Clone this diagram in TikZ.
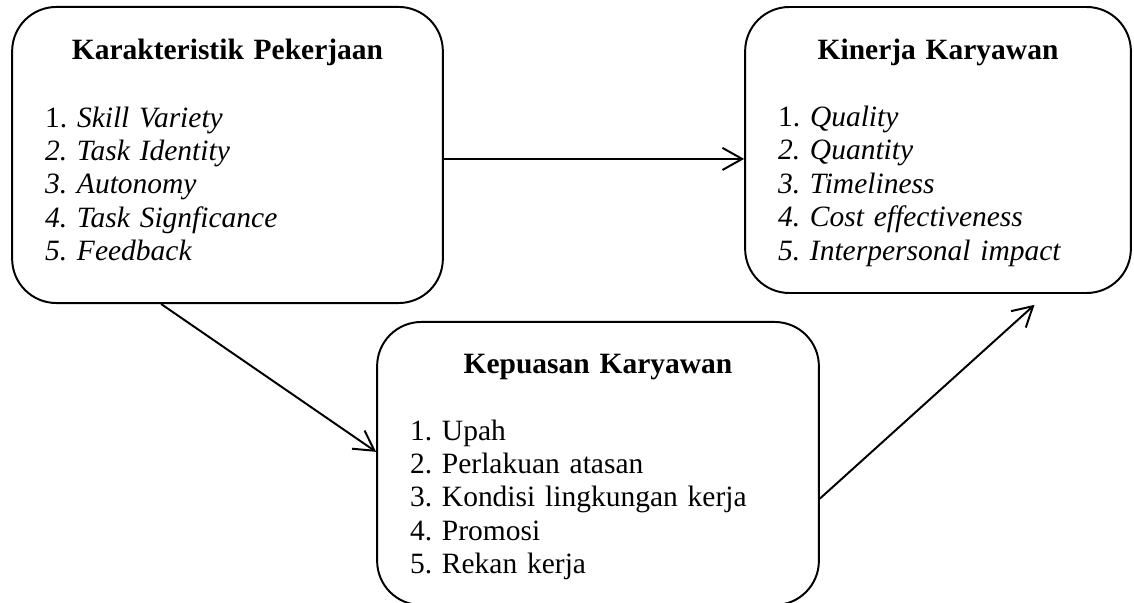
\documentclass[tikz,border=0pt]{standalone}
\usepackage{fontspec}
\setmainfont{Liberation Serif}
\frenchspacing
\usetikzlibrary{arrows.meta, positioning, calc}

\begin{document}
\begin{tikzpicture}[x=0.407pt, y=-0.407pt, >={Straight Barb[length=8pt,width=9pt]}, line width=0.8pt,
        box/.style={draw, rounded corners=18pt, align=left, inner xsep=13.4pt, inner ysep=0pt,
            font=\fontsize{12}{13.6}\selectfont}]
        \useasboundingbox (0,0) rectangle (1134,603);

        \node (kp) [box, text width=148.5pt, minimum height=120.5pt] at (227.5,155)
            {\makebox[\linewidth]{\bfseries Karakteristik Pekerjaan}\\[13.7pt]
             1. \textit{Skill Variety}\\ \textit{2. Task Identity}\\ \textit{3. Autonomy}\\
             \textit{4. Task Signficance}\\ \textit{5. Feedback}\rule[-4pt]{0pt}{0pt}};
        \node (kk) [box, text width=130.2pt, minimum height=116.4pt] at (938,150)
            {\rule{0pt}{10.6pt}\makebox[\linewidth]{\bfseries Kinerja Karyawan}\\[13.7pt]
             1. \textit{Quality}\\ \textit{2. Quantity}\\ \textit{3. Timeliness}\\
             \textit{4. Cost effectiveness}\\ \textit{5. Interpersonal impact}};
        \node (kep) [box, text width=153pt, minimum height=115.2pt] at (598,463.5)
            {\rule{0pt}{10.6pt}\makebox[\linewidth]{\bfseries Kepuasan Karyawan}\\[13.7pt]
             1. Upah\\ 2. Perlakuan atasan\\ 3. Kondisi lingkungan kerja\\
             4. Promosi\\ 5. Rekan kerja};

        \coordinate (kpout) at ([yshift=-1.6pt]kp.east);
        \draw[->] (kpout) -- (kpout -| kk.west);
        \draw[->] (kp.246.5) -- (kep.177.3);
        \draw[->, shorten >=6.6pt] (kep.351) -- (kk.307);
    \end{tikzpicture}
\end{document}
